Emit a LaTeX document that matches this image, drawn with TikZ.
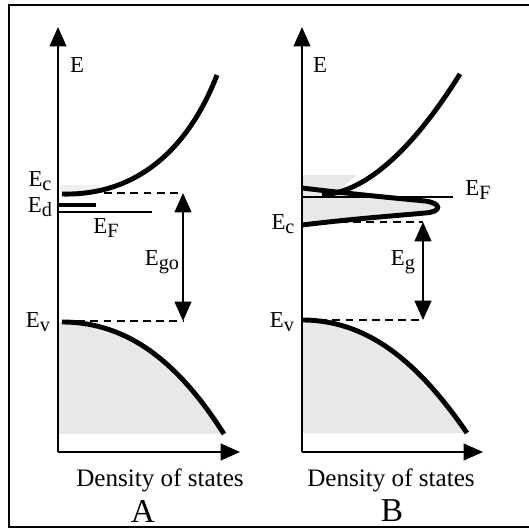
\documentclass[tikz,border=0pt]{standalone}
\usepackage{fontspec}
\setmainfont{Liberation Serif}
\usetikzlibrary{arrows.meta, positioning}

\newcommand{\lvl}[1]{\raisebox{-0.35ex}{\fontsize{11.5}{12}\selectfont #1}}

\begin{document}
\begin{tikzpicture}[
  x=0.02cm, y=-0.02cm,
  >={Triangle[length=11pt, width=9.5pt]},
  axis/.style={line width=1.1pt, ->},
  gap/.style={line width=1.2pt, <->},
  band/.style={line width=2.8pt},
  level/.style={line width=0.9pt, dash pattern=on 4.5pt off 3pt},
  fermi/.style={line width=0.9pt},
  occupied/.style={fill=gray!18},
  lbl/.style={font=\fontsize{13}{15}\selectfont, inner sep=0pt},
  caption/.style={font=\fontsize{14.3}{16}\selectfont, inner sep=0pt},
  panel/.style={font=\fontsize{19}{21}\selectfont, inner sep=0pt}
]
  \useasboundingbox (0,0) rectangle (529,528);
  \draw[line width=0.9pt] (529,5) -- (9,5) -- (9,527) -- (529,527);

  % axes of both panels
  \foreach \p/\x/\xe in {A/58/240, B/302/483}{
    \coordinate (\p-o) at (\x,452);
    \coordinate (\p-top) at (\x,27);
    \coordinate (\p-right) at (\xe,452);
  }

  % panel A: shaded states
  \fill[gray!12] (60,185) rectangle (100,192);
  \fill[occupied] (59,322) .. controls (130,322) and (180,365) .. (224,434) -- (59,434) -- cycle;
  \draw[band] (62,194) .. controls (140,196) and (190,145) .. (217,75);
  \draw[band] (62,322) .. controls (130,322) and (180,365) .. (224,434);
  \draw[band] (58,205) -- (96,205);
  \draw[fermi] (58,212) -- (152,212);

  \coordinate (A-c) at (104,193);
  \coordinate (A-gt) at (183,193);
  \coordinate (A-v) at (64,321);
  \coordinate (A-gb) at (183,321);
  \draw[level] (A-c) -- (A-gt);
  \draw[level] (A-v) -- (A-gb);
  \draw[gap] (A-gt) -- (A-gb);

  \node[lbl] (A-E) at (77,65) {E};
  \node[lbl] (A-Ec) at (40,181) {E\lvl{c}};
  \node[lbl] (A-Ed) at (40,207) {E\lvl{d}};
  \node[lbl] (A-EF) at (106,228) {E\lvl{F}};
  \node[lbl] (A-Ego) at (162,262) {E\lvl{go}};
  \node[lbl] (A-Ev) at (38,322) {E\lvl{v}};

  % panel B: shaded states
  \fill[occupied] (302,175) -- (357,175) -- (338,191) -- (302,191) -- cycle;
  \fill[occupied] (302,188) .. controls (360,195) and (405,199) .. (425,201)
    .. controls (442,203) and (442,212) .. (425,213)
    .. controls (405,215) and (360,218) .. (302,225) -- cycle;
  \fill[occupied] (303,320) .. controls (370,320) and (420,365) .. (467,433) -- (303,433) -- cycle;
  \draw[band] (302,188) .. controls (360,195) and (405,199) .. (425,201)
    .. controls (442,203) and (442,212) .. (425,213)
    .. controls (405,215) and (360,218) .. (302,225);
  \draw[band] (322,195) .. controls (375,192) and (425,130) .. (460,74);
  \draw[band] (302,320) .. controls (370,320) and (420,365) .. (467,433);
  \draw[fermi] (302,197) -- (453,197);

  \coordinate (B-c) at (340,222);
  \coordinate (B-gt) at (423,222);
  \coordinate (B-v) at (306,320);
  \coordinate (B-gb) at (423,320);
  \draw[level] (B-c) -- (B-gt);
  \draw[level] (B-v) -- (B-gb);
  \draw[gap] (B-gt) -- (B-gb);

  \node[lbl] (B-E) at (320,65) {E};
  \node[lbl] (B-EF) at (478,190) {E\lvl{F}};
  \node[lbl] (B-Ec) at (283,224) {E\lvl{c}};
  \node[lbl] (B-Eg) at (403,262) {E\lvl{g}};
  \node[lbl] (B-Ev) at (282,322) {E\lvl{v}};

  % axes on top
  \foreach \p in {A, B}{
    \draw[axis] (\p-o) -- (\p-top);
    \draw[axis] (\p-o) -- (\p-right);
  }

  \node[caption] (A-dos) at (160,480) {Density of states};
  \node[panel] (A-name) at (143,511) {A};
  \node[caption] (B-dos) at (391,480) {Density of states};
  \node[panel] (B-name) at (392,511) {B};
\end{tikzpicture}
\end{document}
